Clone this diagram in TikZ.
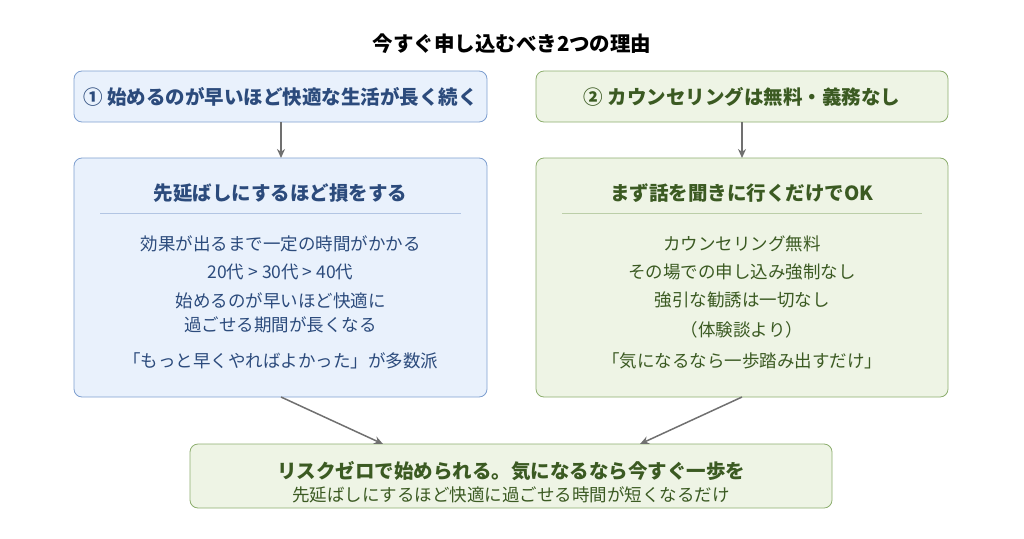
\documentclass[tikz,border=0pt]{standalone}
\usepackage{fontspec}
\setmainfont{Noto Sans CJK JP}
\usetikzlibrary{arrows.meta}
\definecolor{bfill}{HTML}{E9F1FC}
\definecolor{bdraw}{HTML}{7E9FD0}
\definecolor{btext}{HTML}{2C4B7C}
\definecolor{gfill}{HTML}{EEF4E5}
\definecolor{gdraw}{HTML}{8DAE6E}
\definecolor{gtext}{HTML}{3B5A22}
\definecolor{arr}{HTML}{707070}
\begin{document}
\begin{tikzpicture}[x=1pt,y=-1pt,
 bbox/.style={draw=bdraw,fill=bfill,rounded corners=8pt,line width=0.8pt},
 gbox/.style={draw=gdraw,fill=gfill,rounded corners=8pt,line width=0.8pt},
 bt/.style={text=btext,font=\fontsize{17.5}{24}\selectfont,align=center},
 gt/.style={text=gtext,font=\fontsize{17.5}{24}\selectfont,align=center},
 hd/.style={font=\bfseries\fontsize{19.5}{23}\selectfont},
 ar/.style={-{Stealth[length=9pt,width=8pt]},draw=arr,line width=1.5pt}]
\useasboundingbox (0,0) rectangle (1024,538);
\node[font=\bfseries\fontsize{20.5}{24}\selectfont] (title) at (512,44) {今すぐ申し込むべき2つの理由};
\draw[bbox] (74,71) rectangle (487,122);
\node[bt,hd] (h1) at (280.5,97) {① 始めるのが早いほど快適な生活が長く続く};
\draw[gbox] (536,71) rectangle (948,122);
\node[gt,hd] (h2) at (742,97) {② カウンセリングは無料・義務なし};
\draw[bbox] (74,158) rectangle (487,397);
\draw[gbox] (536,158) rectangle (948,397);
\node[bt,hd] (b1) at (280.5,193) {先延ばしにするほど損をする};
\draw[draw=bdraw!60,line width=0.6pt] (100,213) -- (461,213);
\node[bt] (b1a) at (280.5,244) {効果が出るまで一定の時間がかかる};
\node[bt] (b1b) at (280.5,272) {20代 > 30代 > 40代};
\node[bt] (b1c) at (280.5,313) {始めるのが早いほど快適に\\過ごせる期間が長くなる};
\node[bt] (b1d) at (280.5,361) {「もっと早くやればよかった」が多数派};
\node[gt,hd] (g1) at (742,193) {まず話を聞きに行くだけでOK};
\draw[draw=gdraw!60,line width=0.6pt] (562,213) -- (922,213);
\node[gt] (g1a) at (742,244) {カウンセリング無料};
\node[gt] (g1b) at (742,272) {その場での申し込み強制なし};
\node[gt] (g1c) at (742,300) {強引な勧誘は一切なし};
\node[gt] (g1d) at (742,330) {（体験談より）};
\node[gt] (g1e) at (742,361) {「気になるなら一歩踏み出すだけ」};
\draw[gbox] (190,444) rectangle (832,508);
\node[gt,hd] (c1) at (511,471) {リスクゼロで始められる。気になるなら今すぐ一歩を};
\node[gt] (c2) at (511,495) {先延ばしにするほど快適に過ごせる時間が短くなるだけ};
\coordinate (a1) at (281,122); \coordinate (a2) at (281,158);
\coordinate (a3) at (742,122); \coordinate (a4) at (742,158);
\coordinate (a5) at (281,397); \coordinate (a6) at (383,444);
\coordinate (a7) at (742,397); \coordinate (a8) at (640,444);
\draw[ar] (a1) -- (a2);
\draw[ar] (a3) -- (a4);
\draw[ar] (a5) -- (a6);
\draw[ar] (a7) -- (a8);
\end{tikzpicture}
\end{document}
